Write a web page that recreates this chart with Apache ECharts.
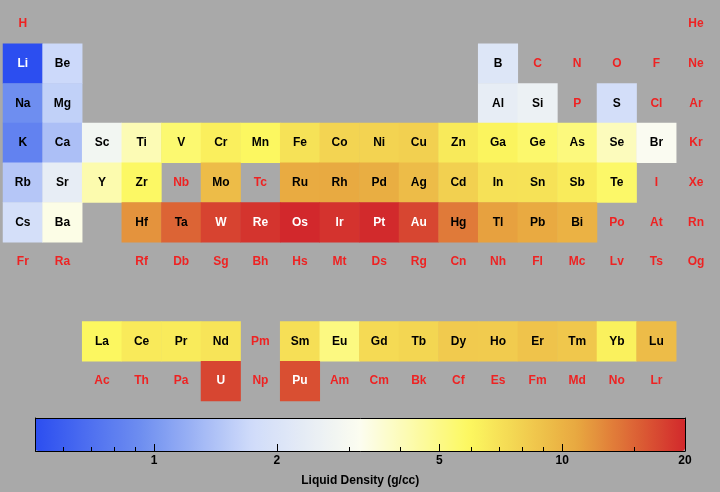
<!DOCTYPE html>
<html><head><meta charset="utf-8">
<script src="https://cdn.jsdelivr.net/npm/echarts@6/dist/echarts.min.js"></script>
<style>html,body{margin:0;padding:0;background:#a9a9a9}#c{width:720px;height:492px}</style>
</head><body><div id="c"></div>
<script>
// ---- data ----
const symbols = [
'H','He',
'Li','Be','B','C','N','O','F','Ne',
'Na','Mg','Al','Si','P','S','Cl','Ar',
'K','Ca','Sc','Ti','V','Cr','Mn','Fe','Co','Ni','Cu','Zn','Ga','Ge','As','Se','Br','Kr',
'Rb','Sr','Y','Zr','Nb','Mo','Tc','Ru','Rh','Pd','Ag','Cd','In','Sn','Sb','Te','I','Xe',
'Cs','Ba','Hf','Ta','W','Re','Os','Ir','Pt','Au','Hg','Tl','Pb','Bi','Po','At','Rn',
'Fr','Ra','Rf','Db','Sg','Bh','Hs','Mt','Ds','Rg','Cn','Nh','Fl','Mc','Lv','Ts','Og',
'La','Ce','Pr','Nd','Pm','Sm','Eu','Gd','Tb','Dy','Ho','Er','Tm','Yb','Lu',
'Ac','Th','Pa','U','Np','Pu','Am','Cm','Bk','Cf','Es','Fm','Md','No','Lr'];
const groups = [
1,18,
1,2,13,14,15,16,17,18,
1,2,13,14,15,16,17,18,
1,2,3,4,5,6,7,8,9,10,11,12,13,14,15,16,17,18,
1,2,3,4,5,6,7,8,9,10,11,12,13,14,15,16,17,18,
1,2,4,5,6,7,8,9,10,11,12,13,14,15,16,17,18,
1,2,4,5,6,7,8,9,10,11,12,13,14,15,16,17,18,
3,4,5,6,7,8,9,10,11,12,13,14,15,16,17,
3,4,5,6,7,8,9,10,11,12,13,14,15,16,17];
const rowCounts = [2,8,8,18,18,17,17,15,15];   // elements per table row
const rowNames = ['1','2','3','4','5','6','7','','La','Ac'];
const rowOfBlock = [0,1,2,3,4,5,6,8,9];
const density = [
null,null,
0.512,1.690,2.08,null,null,null,null,null,
0.927,1.584,2.375,2.57,null,1.819,null,null,
0.828,1.378,2.80,4.11,5.5,6.3,5.95,6.98,7.75,7.81,8.02,6.57,6.095,5.60,5.22,3.99,3.10,null,
1.46,2.375,4.24,5.8,null,9.33,null,10.65,10.7,10.38,9.32,7.996,7.02,6.99,6.53,5.70,null,null,
1.843,3.338,12.0,15.0,17.6,18.9,20.0,19.0,19.77,17.31,13.53,11.22,10.66,10.05,null,null,null,
null,null,null,null,null,null,null,null,null,null,null,null,null,null,null,null,null,
5.94,6.55,6.50,6.89,null,7.16,5.13,7.4,7.65,8.37,8.34,8.86,8.56,6.21,9.3,
null,null,null,17.3,null,16.63,null,null,null,null,null,null,null,null,null];
const colorMin = 0.512, colorMax = 20;
const majorTicks = [1, 2, 5, 10, 20];
const minorTicks = [0.6, 0.7, 0.8, 0.9, 3, 4, 6, 7, 8, 9, 15];
const axisTitle = 'Liquid Density (g/cc)';

// ---- build ----
const rows = [];
rowCounts.forEach((n, b) => { for (let i = 0; i < n; i++) rows.push(rowOfBlock[b]); });
const heat = [], missing = [];
symbols.forEach((s, i) => {
  const d = density[i];
  if (d == null) {
    missing.push({name: s, value: [groups[i] - 1, rows[i]]});
  } else {
    heat.push({name: s, value: [groups[i] - 1, rows[i], Math.log10(d)],
      label: {color: (d < 0.6 || d > 16) ? '#ffffff' : '#000000'}});
  }
});
const L = Math.log10;
const font = 'Liberation Sans, Arial, Helvetica, sans-serif';
const cols = []; for (let i = 1; i <= 18; i++) cols.push(String(i));
const frameLine = {show: true, onZero: false, lineStyle: {color: '#000', width: 1}};

const chart = echarts.init(document.getElementById('c'), null, {renderer: 'canvas'});
chart.setOption({
  backgroundColor: '#a9a9a9',
  animation: false,
  grid: [
    {left: 3, top: 4, width: 712.8, height: 397},
    {left: 35.5, top: 418, width: 649.5, height: 33}
  ],
  xAxis: [
    {gridIndex: 0, type: 'category', data: cols, show: false},
    {gridIndex: 1, type: 'value', min: L(colorMin), max: L(colorMax), position: 'bottom', z: 10,
     axisLine: frameLine,
     axisTick: {show: true, inside: true, length: 7, lineStyle: {color: '#000'}, customValues: majorTicks.map(L)},
     axisLabel: {show: true, customValues: majorTicks.map(L), margin: 4, color: '#000',
       fontWeight: 'bold', fontSize: 12, fontFamily: font,
       formatter: v => String(Math.round(Math.pow(10, v)))},
     splitLine: {show: false},
     name: axisTitle, nameLocation: 'middle', nameGap: 24,
     nameTextStyle: {color: '#000', fontWeight: 'bold', fontSize: 12, fontFamily: font}},
    {gridIndex: 1, type: 'value', min: L(colorMin), max: L(colorMax), position: 'bottom', z: 10,
     axisLine: {show: false, onZero: false},
     axisTick: {show: true, inside: true, length: 4, lineStyle: {color: '#000'}, customValues: minorTicks.map(L)},
     axisLabel: {show: false}, splitLine: {show: false}},
    {gridIndex: 1, type: 'value', min: 0, max: 1, position: 'top', z: 10,
     axisLine: frameLine, axisTick: {show: false},
     axisLabel: {show: false}, splitLine: {show: false}}
  ],
  yAxis: [
    {gridIndex: 0, type: 'category', data: rowNames, inverse: true, show: false},
    {gridIndex: 1, type: 'value', min: 0, max: 1, position: 'left', z: 10,
     axisLine: frameLine, axisTick: {show: false},
     axisLabel: {show: false}, splitLine: {show: false}},
    {gridIndex: 1, type: 'value', min: 0, max: 1, position: 'right', z: 10,
     axisLine: frameLine, axisTick: {show: false},
     axisLabel: {show: false}, splitLine: {show: false}}
  ],
  visualMap: {
    type: 'continuous', seriesIndex: 0, dimension: 2,
    min: L(colorMin), max: L(colorMax),
    orient: 'horizontal', left: 35.5, top: 418, padding: 0,
    itemWidth: 33, itemHeight: 649.5, calculable: false, hoverLink: false,
    text: null, showLabel: false, realtime: false,
    inRange: {color: ['#2c4ef0', '#7090f0', '#d0dcfa', '#fcfdf0', '#fcf860', '#e8a840', '#d2282c']}
  },
  series: [
    {type: 'heatmap', xAxisIndex: 0, yAxisIndex: 0, data: heat,
     itemStyle: {borderWidth: 0},
     label: {show: true, formatter: '{b}', fontWeight: 'bold', fontSize: 12, fontFamily: font},
     emphasis: {disabled: true}},
    {type: 'scatter', xAxisIndex: 0, yAxisIndex: 0, data: missing, symbolSize: 1,
     itemStyle: {color: 'rgba(0,0,0,0)'},
     label: {show: true, position: 'inside', formatter: '{b}', color: '#ff0000',
       fontWeight: 'bold', fontSize: 12, fontFamily: font},
     emphasis: {disabled: true}}
  ]
});
</script></body></html>
